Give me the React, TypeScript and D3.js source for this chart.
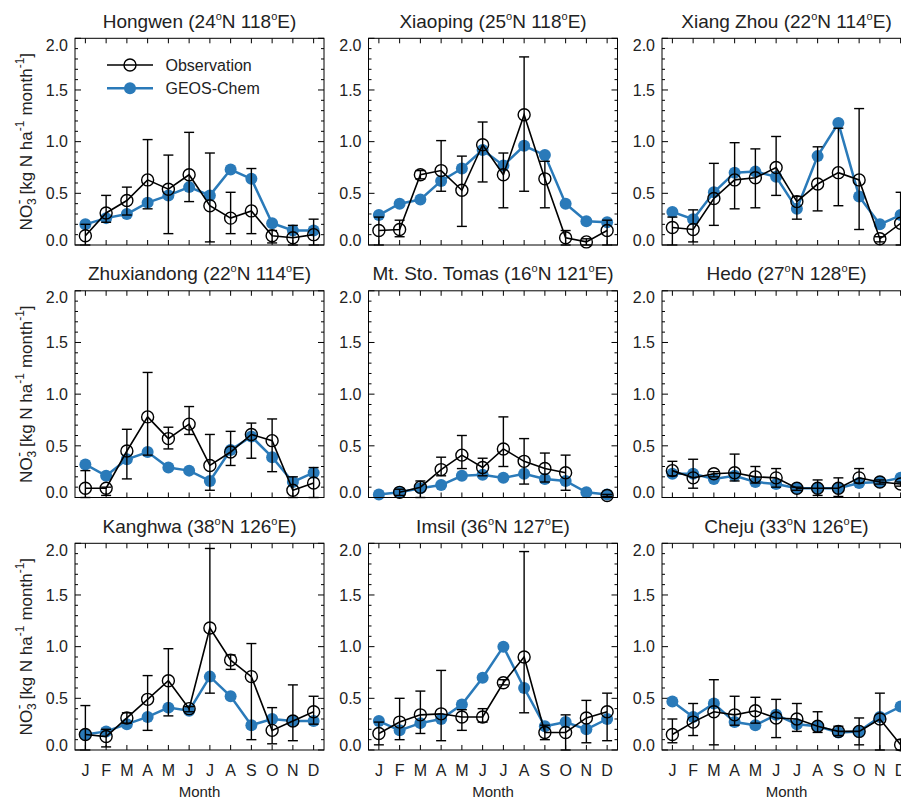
import React from 'react';
import * as d3 from 'd3';

const months = ['J', 'F', 'M', 'A', 'M', 'J', 'J', 'A', 'S', 'O', 'N', 'D'];
const stationNames = ['Hongwen', 'Xiaoping', 'Xiang Zhou', 'Zhuxiandong', 'Mt. Sto. Tomas', 'Hedo', 'Kanghwa', 'Imsil', 'Cheju'];
const stationLat = ['24', '25', '22', '22', '16', '27', '38', '36', '33'];
const stationLon = ['118', '118', '114', '114', '121', '128', '126', '127', '126'];
const yTicks = [0, 0.5, 1, 1.5, 2];

type V = number | null;

const observation: V[][] = [
  [0.09, 0.31, 0.43, 0.63, 0.54, 0.68, 0.38, 0.26, 0.33, 0.09, 0.07, 0.10],
  [0.14, 0.15, 0.68, 0.72, 0.53, 0.97, 0.68, 1.26, 0.64, 0.07, 0.03, 0.14],
  [0.17, 0.15, 0.45, 0.63, 0.65, 0.75, 0.42, 0.59, 0.70, 0.63, 0.06, 0.21],
  [0.09, 0.09, 0.45, 0.78, 0.57, 0.71, 0.31, 0.44, 0.61, 0.55, 0.07, 0.14],
  [null, 0.05, 0.10, 0.27, 0.41, 0.29, 0.47, 0.35, 0.28, 0.24, null, 0.02],
  [0.26, 0.19, 0.23, 0.24, 0.20, 0.19, 0.09, 0.09, 0.09, 0.19, 0.15, 0.13],
  [0.15, 0.13, 0.31, 0.49, 0.67, 0.40, 1.18, 0.87, 0.71, 0.19, 0.28, 0.37],
  [0.16, 0.27, 0.34, 0.35, 0.32, 0.32, 0.65, 0.90, 0.17, 0.17, 0.31, 0.37],
  [0.15, 0.27, 0.37, 0.34, 0.38, 0.31, 0.30, 0.23, 0.18, 0.18, 0.30, 0.05],
];

const obsUpper: V[][] = [
  [0.20, 0.48, 0.56, 1.02, 0.87, 1.09, 0.89, 0.51, 0.74, 0.14, 0.19, 0.25],
  [0.27, 0.24, 0.72, 1.01, 0.86, 1.19, 0.89, 1.82, 0.81, 0.14, 0.06, 0.24],
  [0.27, 0.34, 0.79, 0.99, 0.93, 1.05, 0.47, 0.95, 1.13, 1.32, 0.08, 0.51],
  [0.26, 0.10, 0.66, 1.21, 0.68, 0.88, 0.61, 0.64, 0.72, 0.76, 0.20, 0.29],
  [null, 0.08, 0.16, 0.39, 0.60, 0.38, 0.78, 0.57, 0.43, 0.41, null, 0.03],
  [0.35, 0.37, 0.25, 0.42, 0.30, 0.28, 0.10, 0.17, 0.19, 0.28, 0.17, 0.15],
  [0.43, 0.20, 0.36, 0.72, 0.98, 0.42, 1.95, 0.92, 1.03, 0.41, 0.63, 0.52],
  [0.27, 0.50, 0.57, 0.77, 0.39, 0.40, 0.68, 1.92, 0.24, 0.34, 0.48, 0.55],
  [0.30, 0.45, 0.68, 0.52, 0.51, 0.49, 0.45, 0.37, 0.23, 0.31, 0.55, 0.10],
];

const obsLower: V[][] = [
  [0.00, 0.22, 0.29, 0.35, 0.11, 0.42, 0.03, 0.11, 0.11, 0.02, 0.00, 0.00],
  [0.00, 0.08, 0.64, 0.52, 0.18, 0.61, 0.36, 0.52, 0.36, 0.00, 0.00, 0.00],
  [0.00, 0.03, 0.19, 0.35, 0.36, 0.48, 0.25, 0.33, 0.38, 0.15, 0.03, 0.00],
  [0.00, 0.02, 0.18, 0.41, 0.47, 0.61, 0.07, 0.31, 0.38, 0.25, 0.00, 0.00],
  [null, 0.02, 0.00, 0.21, 0.28, 0.21, 0.30, 0.13, 0.15, 0.07, null, 0.01],
  [0.21, 0.09, 0.20, 0.16, 0.14, 0.10, 0.07, 0.02, 0.01, 0.14, 0.13, 0.11],
  [0.00, 0.03, 0.26, 0.19, 0.33, 0.37, 0.55, 0.78, 0.10, 0.06, 0.09, 0.25],
  [0.05, 0.10, 0.16, 0.09, 0.19, 0.27, 0.63, 0.36, 0.10, 0.00, 0.07, 0.09],
  [0.07, 0.14, 0.05, 0.24, 0.26, 0.12, 0.18, 0.17, 0.14, 0.05, 0.00, 0.00],
];

const geosChem: V[][] = [
  [0.20, 0.26, 0.30, 0.41, 0.48, 0.56, 0.48, 0.73, 0.64, 0.21, 0.14, 0.14],
  [0.29, 0.40, 0.44, 0.62, 0.74, 0.92, 0.77, 0.96, 0.87, 0.40, 0.23, 0.22],
  [0.32, 0.25, 0.51, 0.70, 0.71, 0.66, 0.35, 0.86, 1.18, 0.47, 0.20, 0.29],
  [0.32, 0.21, 0.37, 0.44, 0.29, 0.26, 0.16, 0.46, 0.59, 0.39, 0.15, 0.24],
  [0.03, 0.05, 0.09, 0.12, 0.21, 0.22, 0.19, 0.23, 0.18, 0.16, 0.05, 0.03],
  [0.23, 0.23, 0.18, 0.21, 0.15, 0.13, 0.09, 0.09, 0.09, 0.14, 0.15, 0.19],
  [0.15, 0.18, 0.25, 0.32, 0.41, 0.38, 0.71, 0.52, 0.24, 0.30, 0.28, 0.28],
  [0.28, 0.19, 0.26, 0.30, 0.44, 0.70, 1.00, 0.60, 0.23, 0.27, 0.20, 0.30],
  [0.47, 0.32, 0.45, 0.27, 0.24, 0.34, 0.25, 0.23, 0.17, 0.18, 0.32, 0.42],
];

const BLUE = '#2a7ab9';
const TEXT = '#222';
const FONT = 'Liberation Sans, Arial, Helvetica, sans-serif';
const LEFTS = [75, 368.5, 662];
const TOPS = [38.3, 290.8, 543.3];
const W = 249;
const H = 206.7;

function Title({ i }: { i: number }) {
  return (
    <text x={W / 2} y={-10.5} textAnchor="middle" fontSize={19} fill={TEXT} fontFamily={FONT}>
      {stationNames[i]} ({stationLat[i]}
      <tspan fontSize={11} dy={-8}>o</tspan>
      <tspan dy={8}>N {stationLon[i]}</tspan>
      <tspan fontSize={11} dy={-8}>o</tspan>
      <tspan dy={8}>E)</tspan>
    </text>
  );
}

function YLabel({ cy }: { cy: number }) {
  return (
    <text
      transform={`translate(${31.5 - LEFTS[0]},${cy}) rotate(-90)`}
      textAnchor="middle"
      fontSize={17}
      fill={TEXT}
      fontFamily={FONT}
    >
      <tspan>NO</tspan>
      <tspan fontSize={12} dy={4}>3</tspan>
      <tspan fontSize={14} dx={-6} dy={-12}>-</tspan>
      <tspan dx={5} dy={8}>[kg N ha</tspan>
      <tspan fontSize={12} dy={-8}>-1</tspan>
      <tspan dx={5} dy={8}>month</tspan>
      <tspan fontSize={12} dy={-8}>-1</tspan>
      <tspan dy={8}>]</tspan>
    </text>
  );
}

function Panel({ i }: { i: number }) {
  const col = i % 3;
  const row = Math.floor(i / 3);
  const x = d3.scaleLinear().domain([0.5, 12.5]).range([0, W]);
  const y = d3.scaleLinear().domain([0, 2]).range([H, 0]);
  const idx = d3.range(12);
  const obs = observation[i];
  const hi = obsUpper[i];
  const lo = obsLower[i];
  const mod = geosChem[i];
  const mkLine = (vals: V[]) =>
    d3
      .line<number>()
      .defined((k) => vals[k] !== null)
      .x((k) => x(k + 1))
      .y((k) => y(vals[k] as number))(idx) || '';
  const minor = d3.range(0, 2.0001, 0.1);
  const clamp = (v: number) => Math.max(0, Math.min(2, v));

  return (
    <g transform={`translate(${LEFTS[col]},${TOPS[row]})`}>
      <Title i={i} />
      {minor.map((v, k) => {
        const major = Math.abs(v * 2 - Math.round(v * 2)) < 1e-6;
        const len = major ? 6 : 3;
        return (
          <g key={'yt' + k} stroke="#000" strokeWidth={1}>
            <line x1={0} x2={len} y1={y(v)} y2={y(v)} />
            <line x1={W} x2={W - len} y1={y(v)} y2={y(v)} />
          </g>
        );
      })}
      {idx.map((k) => (
        <g key={'xt' + k} stroke="#000" strokeWidth={1}>
          <line x1={x(k + 1)} x2={x(k + 1)} y1={0} y2={5} />
          <line x1={x(k + 1)} x2={x(k + 1)} y1={H} y2={H - 5} />
        </g>
      ))}
      {yTicks.map((v, k) => {
        let cy = y(v);
        if (v === 2) cy += 6.5;
        if (v === 0) cy -= 5;
        return (
          <text key={'yl' + k} x={-7} y={cy} dy="0.36em" textAnchor="end" fontSize={16} fill={TEXT} fontFamily={FONT}>
            {d3.format('.1f')(v)}
          </text>
        );
      })}
      {row === 2 &&
        idx.map((k) => (
          <text key={'ml' + k} x={x(k + 1)} y={H + 26} textAnchor="middle" fontSize={16} fill={TEXT} fontFamily={FONT}>
            {months[k]}
          </text>
        ))}
      {row === 2 && (
        <text x={W / 2} y={H + 47} textAnchor="middle" fontSize={15} fill={TEXT} fontFamily={FONT}>
          Month
        </text>
      )}
      <path d={mkLine(mod)} fill="none" stroke={BLUE} strokeWidth={2.5} />
      {idx.map((k) =>
        mod[k] === null ? null : <circle key={'m' + k} cx={x(k + 1)} cy={y(mod[k] as number)} r={6} fill={BLUE} />
      )}
      <path d={mkLine(obs)} fill="none" stroke="#000" strokeWidth={1.6} />
      {idx.map((k) => {
        if (obs[k] === null) return null;
        const cx = x(k + 1);
        const yh = y(clamp(hi[k] as number));
        const yl = y(clamp(lo[k] as number));
        return (
          <g key={'o' + k} stroke="#000" strokeWidth={1.4} fill="none">
            <line x1={cx} x2={cx} y1={yh} y2={yl} />
            <line x1={cx - 5} x2={cx + 5} y1={yh} y2={yh} />
            <line x1={cx - 5} x2={cx + 5} y1={yl} y2={yl} />
            <circle cx={cx} cy={y(obs[k] as number)} r={6} />
          </g>
        );
      })}
      <rect x={0} y={0} width={W} height={H} fill="none" stroke="#000" strokeWidth={1} />
      {i === 0 && (
        <g>
          <line x1={32} x2={78} y1={26.7} y2={26.7} stroke="#000" strokeWidth={1.6} />
          <circle cx={55} cy={26.7} r={6} fill="none" stroke="#000" strokeWidth={1.4} />
          <text x={90.5} y={26.7} dy="0.36em" fontSize={16} fill={TEXT} fontFamily={FONT}>
            Observation
          </text>
          <line x1={32} x2={78} y1={50} y2={50} stroke={BLUE} strokeWidth={2.5} />
          <circle cx={55} cy={50} r={6} fill={BLUE} />
          <text x={90.5} y={50} dy="0.36em" fontSize={16} fill={TEXT} fontFamily={FONT}>
            GEOS-Chem
          </text>
        </g>
      )}
      {col === 0 && <YLabel cy={H / 2} />}
    </g>
  );
}

export default function App() {
  return (
    <svg width={901} height={800} style={{ position: 'absolute', left: 0, top: 0, background: '#fff' }}>
      <rect x={0} y={0} width={901} height={800} fill="#fff" />
      {d3.range(9).map((i) => (
        <Panel key={i} i={i} />
      ))}
    </svg>
  );
}
